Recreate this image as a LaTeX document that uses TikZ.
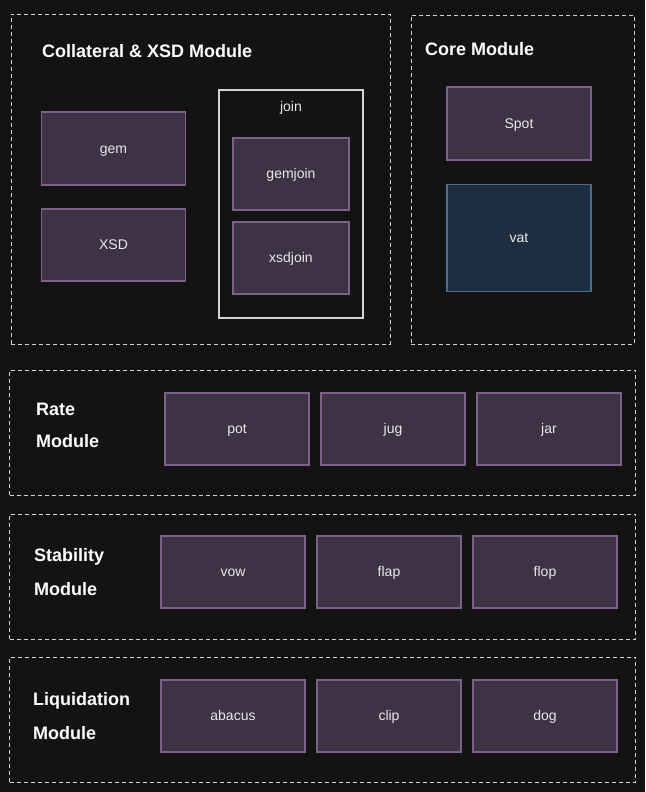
\documentclass[tikz,border=0pt]{standalone}
\usepackage{fontspec}
\setmainfont{Liberation Sans}
\usepackage{xcolor}
\usepackage{tikz}
\usetikzlibrary{positioning}
\definecolor{bgdark}{HTML}{131313}
\definecolor{boxfill}{HTML}{3D3345}
\definecolor{boxline}{HTML}{7C6288}
\definecolor{vatfill}{HTML}{1E2E40}
\definecolor{vatline}{HTML}{4C6D8B}
\definecolor{dashline}{HTML}{D4D4D4}
\definecolor{textlight}{HTML}{E8E8E8}

\begin{document}
\begin{tikzpicture}[
x=1pt,
y=-1pt,
every node/.style={font=\fontsize{14}{16}\selectfont,text=textlight,text height=12.7pt,text depth=3pt},
module/.style={rectangle,draw=dashline,line width=0.9pt,dash pattern=on 4pt off 3pt,inner sep=0pt},
joinbox/.style={rectangle,draw=dashline,line width=1.2pt,inner sep=0pt},
part/.style={rectangle,draw=boxline,fill=boxfill,line width=1.1pt,inner sep=0pt,minimum width=144pt,minimum height=72pt},
smallpart/.style={part,minimum width=116pt},
corepart/.style={rectangle,draw=vatline,fill=vatfill,line width=1.1pt,inner sep=0pt,minimum width=144pt,minimum height=107pt},
title/.style={anchor=west,inner sep=0pt,font=\fontsize{18}{20}\selectfont\bfseries,text=white,text height=16.3pt,text depth=3.8pt}
]
\fill[bgdark] (0,0) rectangle (645,792);
\useasboundingbox (0,0) rectangle (645,792);

\node[module,minimum width=379pt,minimum height=330pt] (collateral) at (200.5,179) {};
\node[title] (collateraltitle) at (42,51) {Collateral \& XSD Module};
\node[part,minimum height=73pt] (gem) at (113.5,148.5) {gem};
\node[part] (xsd) at (113.5,245) {XSD};
\node[joinbox,minimum width=144pt,minimum height=228pt] (join) at (291,204) {};
\node[inner sep=0pt] (jointitle) at (291,107) {join};
\node[smallpart] (gemjoin) at (291,174) {gemjoin};
\node[smallpart] (xsdjoin) at (291,258) {xsdjoin};

\node[module,minimum width=223pt,minimum height=329pt] (core) at (522.5,179.5) {};
\node[title] (coretitle) at (425,49) {Core Module};
\node[part,minimum height=73pt] (spot) at (519,123.5) {Spot};
\node[corepart] (vat) at (519,238) {vat};

\node[module,minimum width=626pt,minimum height=125pt] (rate) at (322.5,432.5) {};
\node[title] (ratetitle) at (36,409) {Rate};
\node[title] (ratemodule) at (36,441.5) {Module};
\node[part] (pot) at (237,429) {pot};
\node[part] (jug) at (393,429) {jug};
\node[part] (jar) at (549,429) {jar};

\node[module,minimum width=626pt,minimum height=125pt] (stability) at (322.5,576.5) {};
\node[title] (stabilitytitle) at (34,555.5) {Stability};
\node[title] (stabilitymodule) at (34,589.5) {Module};
\node[part] (vow) at (233,572) {vow};
\node[part] (flap) at (389,572) {flap};
\node[part] (flop) at (545,572) {flop};

\node[module,minimum width=626pt,minimum height=125pt] (liquidation) at (322.5,719.5) {};
\node[title] (liquidationtitle) at (33,699) {Liquidation};
\node[title] (liquidationmodule) at (33,733) {Module};
\node[part] (abacus) at (233,716) {abacus};
\node[part] (clip) at (389,716) {clip};
\node[part] (dog) at (545,716) {dog};
\end{tikzpicture}
\end{document}
